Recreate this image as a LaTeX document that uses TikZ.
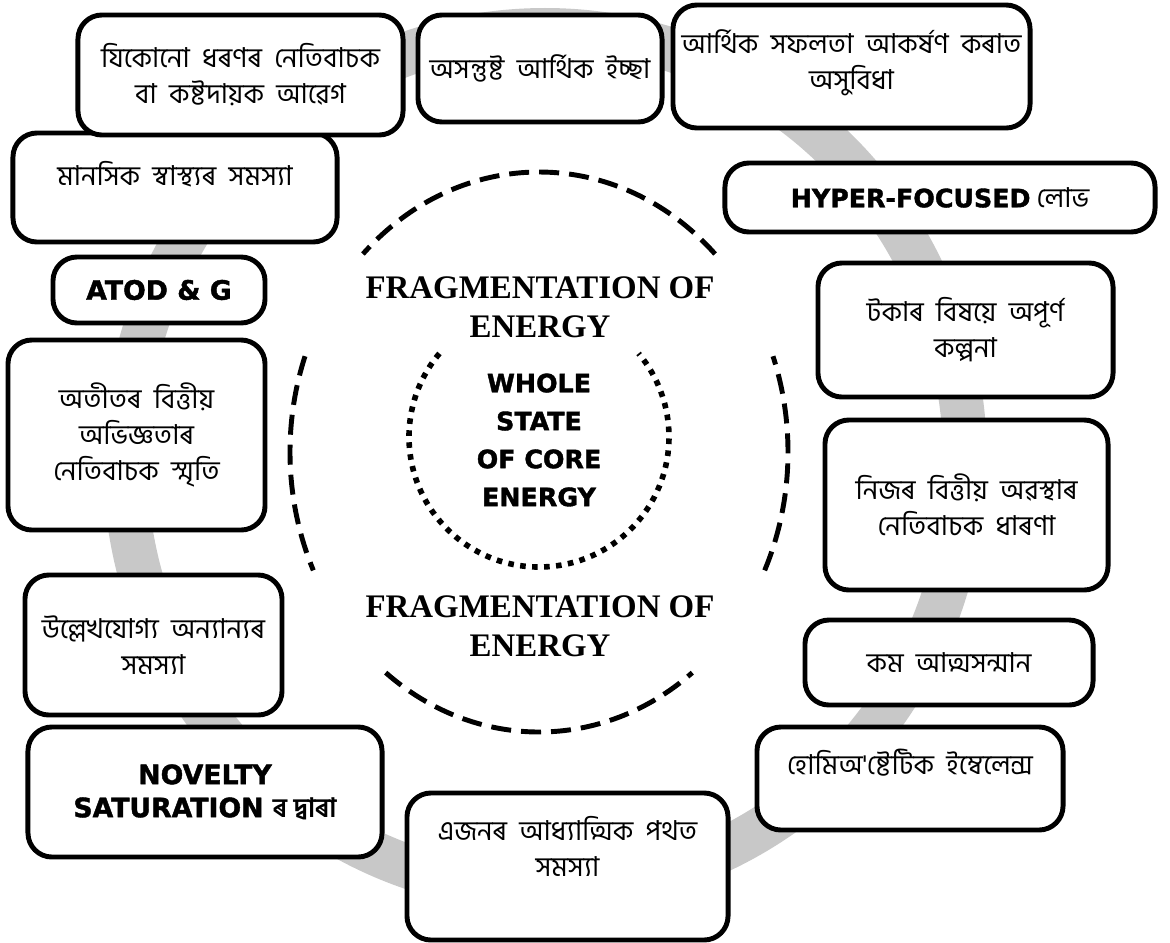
\documentclass[tikz,border=0pt]{standalone}
\usepackage{fontspec}
\newfontfamily\bnfont[Script=Bengali]{Hind Siliguri}
\newfontfamily\heavyfont[FakeBold=1.5]{DejaVu Sans Bold}
\newfontfamily\fragfont{Liberation Serif}
\newcommand\widespaces{\spaceskip=0.45em\relax}
\definecolor{ringgray}{RGB}{200,200,200}
\tikzset{
	box/.style={draw, line width=3.5pt, rounded corners=0.6cm, fill=white, align=center, inner sep=0pt,
		font=\bnfont\fontsize{19.5}{25.5}\selectfont},
	bnbox/.style={box, execute at begin node=\widespaces},
	heavy/.style={font=\heavyfont\fontsize{19}{23.5}\selectfont},
	fragtext/.style={align=center, font=\fragfont\bfseries\fontsize{23.4}{27.6}\selectfont},
	fragline/.style={line width=3.5pt, dash pattern=on 0.5cm off 0.25cm},
	coreline/.style={line width=4pt, dash pattern=on 0.14cm off 0.16cm}
}
\begin{document}
\begin{tikzpicture}[x=0.025cm, y=0.025cm]
		\useasboundingbox (0,0) rectangle (1170,-942);
		% background ring
		\draw[ringgray, line width=1.1cm] (545,-460) ellipse [x radius=420, y radius=430];
		% fragmented energy
		\foreach \a/\b in {45/135, 160/205, -25/20, 232/308}
			\draw[fragline] (539,-452) ++(\a:249 and 280) arc[start angle=\a, end angle=\b, x radius=249, y radius=280];
		\draw[coreline] (539,-437) ++(140:130) arc[start angle=140, end angle=400, radius=130];
		\node[fragtext] (fragtop) at (540,-307) {FRAGMENTATION OF\\ENERGY};
		\node[fragtext] (fragbot) at (540,-626) {FRAGMENTATION OF\\ENERGY};
		\node[align=center, font=\heavyfont\fontsize{18}{27}\selectfont] (core) at (539,-440) {WHOLE\\STATE\\OF CORE\\ENERGY};
		% boxes round the ring
		\node[bnbox, minimum width=8.1cm, minimum height=2.725cm, text depth=0.7cm] (mental) at (175,-187.5) {মানসিক স্বাস্থ্যৰ সমস্যা};
		\node[bnbox, minimum width=8.125cm, minimum height=3cm] (emotion) at (240.5,-75) {যিকোনো ধৰণৰ নেতিবাচক\\বা কষ্টদায়ক আৱেগ};
		\node[bnbox, minimum width=6.1cm, minimum height=2.675cm] (desire) at (540,-68.5) {অসন্তুষ্ট আৰ্থিক ইচ্ছা};
		\node[bnbox, minimum width=8.925cm, minimum height=3.075cm, text depth=0.35cm] (success) at (851.5,-66.5) {আৰ্থিক সফলতা আকৰ্ষণ কৰাত\\অসুবিধা};
		\node[box, minimum width=10.75cm, minimum height=1.725cm] (greed) at (940,-197.5) {{\heavyfont\fontsize{18}{22}\selectfont HYPER-FOCUSED} লোভ};
		\node[box, heavy, minimum width=5.3cm, minimum height=1.65cm] (atod) at (159,-290) {ATOD \& G};
		\node[bnbox, minimum width=7.375cm, minimum height=3.35cm] (fantasy) at (965.5,-330) {টকাৰ বিষয়ে অপূৰ্ণ\\কল্পনা};
		\node[bnbox, minimum width=6.425cm, minimum height=4.75cm] (memory) at (136.5,-435) {অতীতৰ বিত্তীয়\\অভিজ্ঞতাৰ\\নেতিবাচক স্মৃতি};
		\node[bnbox, minimum width=7.075cm, minimum height=4.25cm] (perception) at (966.5,-505) {নিজৰ বিত্তীয় অৱস্থাৰ\\নেতিবাচক ধাৰণা};
		\node[bnbox, minimum width=6.425cm, minimum height=3.5cm] (others) at (153.5,-645) {উল্লেখযোগ্য অন্যান্যৰ\\সমস্যা};
		\node[bnbox, minimum width=7.2cm, minimum height=2.125cm] (esteem) at (949,-662.5) {কম আত্মসন্মান};
		\node[box, heavy, minimum width=8.85cm, minimum height=3.25cm] (novelty) at (205,-792) {NOVELTY\\SATURATION {\bnfont\bfseries ৰ দ্বাৰা}};
		\node[bnbox, minimum width=7.65cm, minimum height=2.575cm, text depth=0.85cm] (homeo) at (910,-778.5) {হোমিঅ'ষ্টেটিক ইম্বেলেন্স};
		\node[bnbox, minimum width=8.025cm, minimum height=3.675cm, text depth=1.0cm] (spiritual) at (567.5,-866.5) {এজনৰ আধ্যাত্মিক পথত\\সমস্যা};
	\end{tikzpicture}
\end{document}
